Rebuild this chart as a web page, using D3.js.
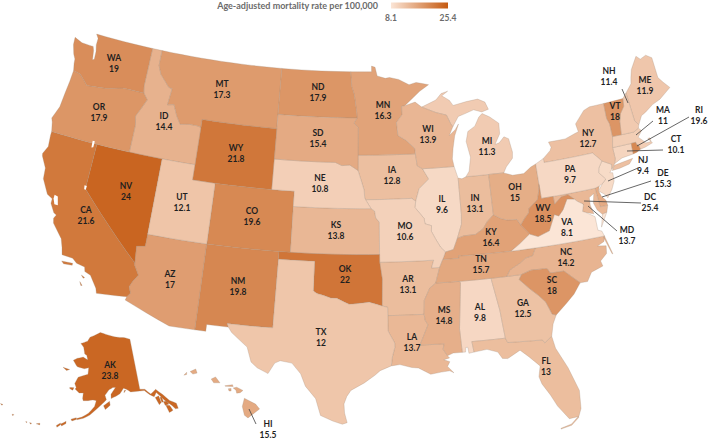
<!DOCTYPE html>
<html>
<head>
<meta charset="utf-8">
<script src="https://cdn.jsdelivr.net/npm/d3@7"></script>
<style>
body { margin:0; background:#fff; }
text { font-family:Lato,"Open Sans",sans-serif; font-weight:700; }
</style>
</head>
<body>
<svg width="709" height="445"></svg>
<script>
// values
var stateCodes = ["AK","AL","AR","AZ","CA","CO","CT","DC","DE","FL","GA","HI","IA","ID","IL","IN","KS","KY","LA","MA","MD","ME","MI","MN","MO","MS","MT","NC","ND","NE","NH","NJ","NM","NV","NY","OH","OK","OR","PA","RI","SC","SD","TN","TX","UT","VA","VT","WA","WI","WV","WY"]
var stateRates = [23.8,9.8,13.1,17,21.6,19.6,10.1,25.4,15.3,13,12.5,15.5,12.8,14.4,9.6,13.1,13.8,16.4,13.7,11,13.7,11.9,11.3,16.3,10.6,14.8,17.3,14.2,17.9,10.8,11.4,9.4,19.8,24,12.7,15,22,17.9,9.7,19.6,18,15.4,15.7,12,12.1,8.1,18,19,13.9,18.5,21.8]
var legendTicks = [8.1,25.4]
var legendTitle = "Age-adjusted mortality rate per 100,000"

// state outlines, lon,lat
var outlines = {
WA:["-124.7,48.38 -123.9,48.17 -123.1,48.15 -122.75,48.15 -122.6,47.9 -122.5,47.5 -122.45,47.28 -122.3,47.35 -122.35,47.9 -122.5,48.3 -122.5,48.75 -122.76,49 -117.03,49 -117.04,46.42 -116.92,46 -118.98,46 -119.3,45.93 -120.5,45.7 -121.2,45.65 -122.3,45.55 -122.8,45.9 -123.2,46.15 -123.9,46.25 -124.05,46.7 -124.1,47 -124.35,47.3 -124.65,47.9"],
OR:["-123.9,46.25 -123.2,46.15 -122.8,45.9 -122.3,45.55 -121.2,45.65 -120.5,45.7 -119.3,45.93 -118.98,46 -116.92,46 -116.46,45.6 -116.85,44.95 -117.2,44.4 -117.03,43.85 -117.03,42 -120,42 -124.2,42 -124.4,42.6 -124.55,42.85 -124.15,43.7 -124.05,44.7 -123.95,45.5"],
CA:["-124.2,42 -120,42 -120,39 -114.63,35 -114.6,34.85 -114.15,34.25 -114.5,33.8 -114.7,33.4 -114.5,33 -114.72,32.72 -117.12,32.53 -117.25,32.85 -117.9,33.6 -118.4,33.75 -118.5,34.03 -119.2,34.15 -119.6,34.4 -120.5,34.45 -120.65,34.9 -120.9,35.45 -121.85,36.3 -121.95,36.6 -121.8,36.85 -122.05,36.95 -122.5,37.5 -122.5,37.8 -123,38 -123.7,38.9 -123.8,39.6 -124.35,40.3 -124.4,40.45 -124.1,41 -124.2,41.75",
    "-120.4,34.05 -119.5,34.08 -119.5,33.95 -120.2,33.9","-118.6,33.47 -118.3,33.36 -118.4,33.3","-118.6,33.03 -118.35,32.82 -118.45,32.8"],
NV:["-120,42 -117.03,42 -114.04,42 -114.04,37 -114.05,36.2 -114.75,36.1 -114.63,35 -120,39"],
ID:["-117.03,49 -116.05,49 -116.05,48 -115.7,47.45 -114.7,46.7 -114.35,46.65 -114.5,45.55 -113.9,45.65 -113.45,44.95 -113,44.45 -112.3,44.55 -111.5,44.55 -111.05,44.48 -111.05,42 -114.04,42 -117.03,42 -117.03,43.85 -117.2,44.4 -116.85,44.95 -116.46,45.6 -116.92,46 -117.04,46.42"],
MT:["-116.05,49 -104.05,49 -104.05,45.94 -104.05,45 -111.05,45 -111.05,44.48 -111.5,44.55 -112.3,44.55 -113,44.45 -113.45,44.95 -113.9,45.65 -114.5,45.55 -114.35,46.65 -114.7,46.7 -115.7,47.45 -116.05,48"],
WY:["-111.05,45 -104.05,45 -104.05,43 -104.05,41 -109.05,41 -111.05,41 -111.05,42 -111.05,44.48"],
UT:["-114.04,42 -111.05,42 -111.05,41 -109.05,41 -109.05,37 -114.04,37"],
CO:["-109.05,41 -104.05,41 -102.05,41 -102.05,40 -102.05,37 -103,37 -109.05,37"],
AZ:["-114.04,37 -109.05,37 -109.05,31.33 -111.07,31.33 -114.8,32.5 -114.72,32.72 -114.5,33 -114.7,33.4 -114.5,33.8 -114.15,34.25 -114.6,34.85 -114.63,35 -114.75,36.1 -114.05,36.2"],
NM:["-109.05,37 -103,37 -103,36.5 -103.05,32 -106.62,32 -106.5,31.78 -108.2,31.78 -108.2,31.33 -109.05,31.33"],
TX:["-103,36.5 -100,36.5 -100,34.56 -99.7,34.4 -99.2,34.3 -98.6,34.15 -98.1,34.13 -97.5,33.9 -97.1,33.75 -96.5,33.8 -95.5,33.9 -94.48,33.64 -94.04,33.55 -94.04,33 -94.04,31.99 -93.55,31.2 -93.55,30.9 -93.75,30.3 -93.85,29.7 -94.7,29.4 -95.1,29.1 -95.9,28.6 -96.9,28.1 -97.2,27.7 -97.4,27.2 -97.35,26.6 -97.15,25.96 -97.5,25.85 -98.2,26.05 -99.1,26.4 -99.5,27.5 -100.3,28.3 -100.7,29.1 -101.4,29.77 -102.3,29.88 -102.7,29.7 -103.15,28.98 -104,29.3 -104.5,29.65 -104.9,30.6 -106.2,31.45 -106.5,31.78 -106.62,32 -103.05,32"],
OK:["-103,37 -102.05,37 -94.62,37 -94.62,36.5 -94.43,35.4 -94.48,33.64 -95.5,33.9 -96.5,33.8 -97.1,33.75 -97.5,33.9 -98.1,34.13 -98.6,34.15 -99.2,34.3 -99.7,34.4 -100,34.56 -100,36.5 -103,36.5"],
KS:["-102.05,40 -95.3,40 -95,39.85 -94.9,39.4 -94.6,39.1 -94.62,37 -102.05,37"],
NE:["-104.05,43 -98.5,43 -97.9,42.8 -97.2,42.85 -96.45,42.5 -96.1,41.7 -95.9,41.2 -95.85,40.7 -95.77,40.58 -95.3,40 -102.05,40 -102.05,41 -104.05,41"],
SD:["-104.05,45.94 -96.56,45.94 -96.85,45.6 -96.45,45.3 -96.45,43.5 -96.45,42.5 -97.2,42.85 -97.9,42.8 -98.5,43 -104.05,43 -104.05,45"],
ND:["-104.05,49 -97.23,49 -97.1,48 -96.85,47.5 -96.6,46.3 -96.56,45.94 -104.05,45.94"],
MN:["-97.23,49 -95.15,49 -95.15,49.38 -94.8,49.3 -94.6,48.72 -93.8,48.55 -93.4,48.6 -92.5,48.45 -91.5,48.07 -90.8,48.2 -89.6,48 -90.5,47.6 -92,46.7 -92.3,46.66 -92.3,46.1 -92.85,45.6 -92.75,44.75 -92,44.4 -91.25,43.85 -91.22,43.5 -96.45,43.5 -96.45,45.3 -96.85,45.6 -96.56,45.94 -96.6,46.3 -96.85,47.5 -97.1,48"],
IA:["-96.45,43.5 -91.22,43.5 -91.1,42.7 -90.65,42.5 -90.15,41.8 -91.05,41.2 -91.4,40.4 -91.73,40.6 -95.77,40.58 -95.85,40.7 -95.9,41.2 -96.1,41.7 -96.45,42.5"],
MO:["-95.77,40.58 -91.73,40.6 -91.4,40.4 -91.5,40 -90.75,39.25 -90.7,38.9 -90.15,38.75 -90.2,38.4 -89.9,37.9 -89.5,37.3 -89.13,36.98 -89.4,36.5 -89.7,36 -90.37,36 -90.15,36.5 -94.62,36.5 -94.62,37 -94.6,39.1 -94.9,39.4 -95,39.85 -95.3,40"],
AR:["-94.62,36.5 -90.15,36.5 -90.37,36 -89.7,36 -89.9,35.5 -90.1,35 -90.6,34.7 -91.1,33.9 -91.17,33 -94.04,33 -94.04,33.55 -94.48,33.64 -94.43,35.4"],
LA:["-94.04,33 -91.17,33 -91.1,32.6 -90.9,32.3 -91.6,31 -89.73,31 -89.85,30.65 -89.55,30.2 -89.4,30.05 -89.85,29.95 -89.4,29.8 -89.6,29.5 -89.15,29.05 -89.45,29.2 -90.1,29.15 -90.9,29.05 -91.8,29.5 -92.3,29.55 -93.2,29.77 -93.85,29.7 -93.75,30.3 -93.55,30.9 -93.55,31.2 -94.04,31.99"],
MS:["-91.17,33 -91.1,33.9 -90.6,34.7 -90.1,35 -88.2,35 -88.1,34.9 -88.47,31.9 -88.4,30.35 -89.1,30.35 -89.55,30.2 -89.85,30.65 -89.73,31 -91.6,31 -90.9,32.3 -91.1,32.6"],
TN:["-90.1,35 -89.9,35.5 -89.7,36 -89.4,36.5 -88.05,36.5 -88.05,36.68 -87.85,36.64 -83.7,36.6 -81.68,36.59 -82,36.12 -82.6,36.03 -83.1,35.75 -84,35.4 -84.32,35 -85.6,35 -88.2,35"],
KY:["-89.4,36.5 -88.05,36.5 -88.05,36.68 -87.85,36.64 -83.7,36.6 -82.9,37 -81.97,37.54 -82.6,38.2 -82.85,38.6 -83.7,38.65 -84.2,38.8 -84.8,39.1 -85.4,38.7 -85.8,38.27 -86.5,37.95 -87.5,37.93 -88.05,37.8 -88.45,37.1 -89.13,36.98"],
IL:["-90.65,42.5 -87.8,42.5 -87.55,41.75 -87.53,41.72 -87.53,39.35 -87.6,38.7 -87.95,38 -88.05,37.8 -88.45,37.1 -89.13,36.98 -89.5,37.3 -89.9,37.9 -90.2,38.4 -90.15,38.75 -90.7,38.9 -90.75,39.25 -91.5,40 -91.4,40.4 -91.05,41.2 -90.15,41.8"],
WI:["-92.3,46.66 -92,46.7 -91,46.9 -90.4,46.55 -89.1,46.13 -88.1,45.9 -87.8,45.35 -87.6,45.1 -88,44.55 -87.4,44.9 -87.05,45.25 -87.5,44.5 -87.75,43.7 -87.9,43 -87.8,42.5 -90.65,42.5 -91.1,42.7 -91.22,43.5 -91.25,43.85 -92,44.4 -92.75,44.75 -92.85,45.6 -92.3,46.1"],
MI:["-86.83,41.76 -84.8,41.75 -83.45,41.73 -83.15,42.1 -82.5,42.6 -82.42,43 -82.6,43.9 -83,44.07 -83.5,43.72 -83.9,43.65 -83.35,44.3 -83.3,45 -84.1,45.5 -84.75,45.77 -85.1,45.55 -85.55,45 -86.25,44.7 -86.5,44.05 -86.25,43 -86.5,42.1",
    "-90.4,46.55 -89.1,46.13 -88.1,45.9 -87.8,45.35 -87.6,45.1 -87,45.75 -86.5,45.85 -85.5,46.08 -84.75,45.88 -84.1,46 -84.35,46.5 -85,46.75 -86.1,46.67 -87.4,46.5 -87.7,46.85 -88.4,47.2 -87.8,47.47 -88.45,47.35 -89,46.95"],
IN:["-87.53,41.72 -87.2,41.65 -86.83,41.76 -84.8,41.75 -84.8,39.1 -85.4,38.7 -85.8,38.27 -86.5,37.95 -87.5,37.93 -88.05,37.8 -87.95,38 -87.6,38.7 -87.53,39.35"],
OH:["-84.8,41.75 -83.45,41.73 -82.7,41.5 -81.7,41.5 -81,41.85 -80.52,42 -80.52,40.64 -80.65,40.2 -80.85,39.7 -81.7,39.2 -81.75,38.95 -82.2,38.6 -82.6,38.2 -82.85,38.6 -83.7,38.65 -84.2,38.8 -84.8,39.1"],
PA:["-80.52,42 -79.76,42.27 -79.76,42 -75.35,42 -74.7,41.36 -75.1,40.95 -75.2,40.65 -74.72,40.15 -75.1,39.9 -75.4,39.8 -75.8,39.72 -79.48,39.72 -80.52,39.72 -80.52,40.64"],
NY:["-79.76,42.27 -79.05,42.7 -78.9,42.9 -79.05,43.27 -77.5,43.27 -76.5,43.5 -76.2,43.55 -76.3,44.1 -75.3,44.85 -74.7,45 -73.35,45 -73.4,44 -73.25,43.6 -73.27,42.75 -73.5,42.05 -73.5,41.3 -73.66,41 -73.85,40.8 -74,40.7 -73.92,41 -74.7,41.36 -75.35,42 -79.76,42",
    "-74,40.6 -73.7,40.9 -72.6,41 -72,41.05 -72.4,40.75 -73.3,40.63"],
NJ:["-73.92,41 -74.7,41.36 -75.1,40.95 -75.2,40.65 -74.72,40.15 -75.1,39.9 -75.55,39.5 -75.1,39.2 -74.9,38.93 -74.4,39.4 -74.05,39.9 -74,40.45 -74.25,40.5 -74,40.7"],
DE:["-75.8,39.72 -75.4,39.8 -75.55,39.5 -75.4,39.1 -75.1,38.8 -75.05,38.45 -75.7,38.46"],
MD:["-79.48,39.72 -75.8,39.72 -75.7,38.46 -75.05,38.45 -75.25,38.03 -75.65,37.95 -76,38.3 -76.2,38.8 -76,39.4 -76.45,39.2 -76.5,38.7 -76.35,38.1 -77,38.3 -77.25,38.4 -77.05,38.85 -77.5,39.1 -77.75,39.3 -78.2,39.65 -78.8,39.6 -79.48,39.2"],
DC:["-77.12,38.93 -77.04,39 -76.91,38.89 -77.04,38.79"],
VA:["-83.7,36.6 -81.68,36.59 -75.87,36.55 -76,36.9 -76.3,37 -76.3,37.9 -77,38.3 -77.25,38.4 -77.05,38.85 -77.5,39.1 -77.75,39.3 -78.35,39.4 -78.85,38.75 -79.3,38.4 -79.65,38.55 -80.3,37.55 -81.3,37.3 -81.97,37.54 -82.9,37",
    "-75.25,38.03 -75.65,37.95 -75.95,37.15 -75.6,37.6"],
WV:["-80.52,40.64 -80.52,39.72 -79.48,39.72 -79.48,39.2 -78.8,39.6 -78.2,39.65 -77.75,39.3 -78.35,39.4 -78.85,38.75 -79.3,38.4 -79.65,38.55 -80.3,37.55 -81.3,37.3 -81.97,37.54 -82.6,38.2 -82.2,38.6 -81.75,38.95 -81.7,39.2 -80.85,39.7 -80.65,40.2"],
NC:["-81.68,36.59 -75.87,36.55 -76,36.2 -76.6,36 -75.9,35.9 -76,35.4 -76.6,35 -76.5,34.65 -77.5,34.4 -77.95,33.85 -78.55,33.86 -79.67,34.8 -80.8,34.82 -80.95,35.1 -81.05,35.15 -82.3,35.2 -83.1,35 -84.32,35 -84,35.4 -83.1,35.75 -82.6,36.03 -82,36.12",
    "-75.87,36.55 -75.5,35.3 -75.56,35.3 -75.97,36.5"],
SC:["-83.1,35 -82.3,35.2 -81.05,35.15 -80.95,35.1 -80.8,34.82 -79.67,34.8 -78.55,33.86 -79.2,33.2 -79.9,32.7 -80.85,32.05 -81.15,32.15 -81.5,33 -82,33.5 -82.6,34 -83.35,34.7"],
GA:["-85.6,35 -84.32,35 -83.1,35 -83.35,34.7 -82.6,34 -82,33.5 -81.5,33 -81.15,32.15 -80.85,32.05 -81.2,31.5 -81.45,30.72 -82.05,30.36 -82.2,30.57 -84.86,30.7 -85,31 -85.1,32 -85.18,32.87"],
AL:["-88.2,35 -85.6,35 -85.18,32.87 -85.1,32 -85,31 -87.6,31 -87.5,30.3 -87.9,30.25 -87.95,30.65 -88.1,30.65 -88.15,30.35 -88.4,30.35 -88.47,31.9 -88.1,34.9"],
FL:["-87.6,31 -85,31 -84.86,30.7 -82.2,30.57 -82.05,30.36 -81.45,30.72 -81.3,29.9 -80.6,28.5 -80.05,26.9 -80.15,25.7 -80.4,25.2 -81.1,25.15 -81.8,26.1 -82.2,26.9 -82.7,27.7 -82.85,28.2 -82.65,28.9 -83.4,29.6 -84,30.1 -85,29.65 -85.4,29.7 -85.7,30.15 -86.5,30.4 -87.5,30.3",
    "-81.8,24.55 -81,24.7 -80.4,25.15 -80.45,25.2 -81,24.78 -81.8,24.6"],
VT:["-73.35,45 -71.5,45 -71.6,44.5 -72.05,44.1 -72.3,43.6 -72.46,42.73 -73.27,42.75 -73.25,43.6 -73.4,44"],
NH:["-71.5,45 -71.08,45.3 -70.98,43.4 -70.7,43.07 -70.82,42.87 -71.3,42.7 -72.46,42.73 -72.3,43.6 -72.05,44.1 -71.6,44.5"],
ME:["-71.08,45.3 -70.4,45.8 -70.25,46.2 -70,46.7 -69.23,47.46 -68.9,47.2 -68.3,47.35 -67.8,47.07 -67.8,45.7 -67.45,45.3 -67,44.85 -68.2,44.3 -69,44.1 -69.8,43.75 -70.25,43.6 -70.7,43.07 -70.98,43.4"],
MA:["-73.5,42.05 -73.27,42.75 -72.46,42.73 -71.3,42.7 -70.82,42.87 -70.6,42.65 -71.05,42.3 -70.65,41.95 -70.55,41.8 -70.05,41.8 -70.05,42.05 -70.25,42.05 -69.95,41.7 -70.65,41.55 -71.13,41.5 -71.2,41.75 -71.38,41.9 -71.38,42.02 -71.8,42.02"],
RI:["-71.8,42.02 -71.38,42.02 -71.38,41.9 -71.2,41.75 -71.13,41.5 -71.5,41.37 -71.85,41.32"],
CT:["-73.5,42.05 -71.8,42.02 -71.85,41.32 -72.9,41.25 -73.66,41 -73.5,41.3"],
AK:["-141,69.65 -143.5,70.1 -148,70.4 -152,70.85 -156.6,71.35 -159,70.85 -162,70.3 -163,69.5 -166.2,68.9 -164.5,68.3 -163.5,67.1 -162.5,66.9 -161.8,66.1 -164,66.5 -166.5,66.1 -168.1,65.6 -166,64.6 -162.8,64.4 -161,64.7 -161,63.5 -163,63.1 -164.8,62.7 -165.7,61.5 -164.9,60.8 -165.2,60.5 -163.5,59.9 -162,60 -162,59 -161.7,58.6 -160,58.7 -158.3,58.9 -157.1,58.8 -157.6,57.7 -159.5,56.4 -161.5,55.6 -163.2,55.2 -163,55 -161,55.4 -159,56.1 -157,57.2 -155,58.2 -153.5,59 -154,59.8 -152.5,60.8 -151,61.2 -150,61.2 -151.8,60 -151.8,59.2 -150,59.6 -148.5,60 -147,60.9 -146,60.7 -144.5,60.1 -142,60 -139.5,59.9 -138,59 -136.6,58.35 -135.5,59 -134.5,58.2 -133.5,57.2 -132.6,56.6 -131.7,55.9 -131,55.1 -130.1,55 -130.1,56 -131.9,56.9 -133.5,58.3 -135.4,59.6 -137.5,59 -139.2,60.1 -141,60.3",
    "-136.3,58.2 -135,58.3 -134.8,57 -135.6,56.7","-134.7,58 -134.1,57.9 -134,57 -134.6,57","-133.6,56.3 -132.4,56 -131.9,55 -133.2,54.8","-134,57 -133,57 -132.5,56.3 -133.8,56.3",
    "-154.5,57.9 -152.4,58.7 -152.2,58 -153.9,57.2","-167.3,60.6 -165.7,60.7 -166,60.2 -167.2,60.4","-171.7,63.9 -168.8,63.8 -170,63.5",
    "-164.9,54.95 -163.3,55.35 -163.2,55.05 -164.5,54.65","-167.8,53.7 -166.3,54.4 -166.2,54 -167.4,53.4","-169,53.3 -167.9,53.9 -167.8,53.6 -168.7,53",
    "-175,52.6 -174,52.9 -173.9,52.6","-177,52.4 -176.4,52.45 -176.5,52.2","-178.2,52.3 -177.8,52.4 -177.8,52.2","177.2,52.6 177.7,52.7 177.6,52.4","172.6,53.4 173.4,53.45 173.2,53.25","-146.8,60.5 -146.2,60.5 -147,60.1"],
HI:["-155.9,20.25 -155.7,20.15 -155.1,19.85 -154.82,19.52 -155.65,18.92 -155.9,19.1 -156.05,19.7","-156.7,20.95 -156.45,21 -156,20.78 -156.2,20.63 -156.45,20.6 -156.5,20.8",
    "-157.05,20.9 -156.85,20.92 -156.85,20.74 -157,20.75","-157.3,21.1 -156.75,21.17 -156.7,21.05 -157.25,21.06","-158.28,21.55 -157.97,21.7 -157.65,21.3 -158.1,21.3","-159.8,22.05 -159.4,22.23 -159.3,21.95 -159.6,21.88","-160.25,21.8 -160.05,22 -160.05,21.85"]
}

// water that shows as white holes: Tahoe, Goose Lake, San Francisco Bay
var lakes = ["-120.15,39.2 -119.95,39.2 -119.95,38.95 -120.1,38.95","-120.45,42.15 -120.25,42.15 -120.25,41.75 -120.4,41.7","-122.4,38.1 -122.1,38.05 -121.9,37.5 -122.2,37.5 -122.4,37.85"]

// where the labels sit on the page
var labelSpots = {AK:[110,365],AL:[480,307],AR:[408,279],AZ:[170,274],CA:[86,210],CO:[252,211],CT:[676,139],DC:[650,197],DE:[663,173],FL:[546,361],GA:[523,303],HI:[268,424],IA:[392,170],ID:[164,116],IL:[442,199],IN:[475,198],KS:[336,225],KY:[491,232],LA:[412,337],MA:[663,110],MD:[627,230],ME:[645,80],MI:[487,141],MN:[383,105],MO:[405,226],MS:[444,310],MT:[222,84],NC:[566,252],ND:[318,87],NE:[320,178],NH:[609,71],NJ:[643,160],NM:[238,281],NV:[126,186],NY:[588,133],OH:[515,187],OK:[345,269],OR:[99,107],PA:[570,169],RI:[699,110],SC:[552,280],SD:[318,133],TN:[481,259],TX:[321,332],UT:[182,197],VA:[567,222],VT:[615,106],WA:[114,58],WI:[428,129],WV:[543,208],WY:[236,148]}
var leaders = [[622,89,628,103],[653,121,636,135],[689,117,637,146],[663,150,627,151],[638,168,608,181],[651,181,602,197],[641,203,584,201],[617,231,588,206],[256,424,249,409]]

var svg = d3.select("svg")

var color = d3.scaleLinear().domain(d3.extent(stateRates)).range(["#fbe5d6","#c55a11"])

var lower48 = d3.geoConicEqualArea().parallels([29.5,45.5]).rotate([96,0]).center([0,37.5]).scale(870).translate([363,247])
var alaska = d3.geoConicEqualArea().parallels([55,65]).rotate([154,0]).center([0,58.5]).scale(313).translate([105,402.5])
var hawaii = d3.geoConicEqualArea().parallels([8,18]).rotate([157,0]).center([0,20]).scale(850).translate([229,402])

var pathFor = function(code)
{
    if (code == "AK") { return d3.geoPath(alaska) }
    if (code == "HI") { return d3.geoPath(hawaii) }
    return d3.geoPath(lower48)
}

// follow the parallels: break long edges so they are not drawn as great arcs
var parseRing = function(text)
{
    var pts = text.trim().split(/\s+/).map(function(p){ return p.split(",").map(Number) })
    pts.push(pts[0])
    var out = []
    for (var i = 0; i < pts.length - 1; i++)
    {
        var a = pts[i], b = pts[i+1]
        var n = Math.max(1, Math.ceil(Math.abs(a[0]-b[0])))
        if (Math.abs(a[0]-b[0]) > 180) { n = 1 }
        for (var k = 0; k < n; k++)
        {
            out.push([a[0]+(b[0]-a[0])*k/n, a[1]+(b[1]-a[1])*k/n])
        }
    }
    out.push(pts[0])
    if (d3.geoArea({type:"Polygon",coordinates:[out]}) > 2*Math.PI) { out.reverse() }
    return out
}

var features = stateCodes.map(function(code, i)
{
    return {
        type:"Feature",
        id:code,
        rate:stateRates[i],
        geometry:{type:"MultiPolygon",coordinates:outlines[code].map(function(t){ return [parseRing(t)] })}
    }
})

svg.append("g")
    .selectAll("path")
    .data(features)
    .enter()
    .append("path")
    .attr("d", function(d){ return pathFor(d.id)(d) })
    .attr("fill", function(d){ return color(d.rate) })
    .attr("stroke", "#a08a7a")
    .attr("stroke-opacity", 0.55)
    .attr("stroke-width", 0.5)
    .attr("stroke-linejoin", "round")

svg.append("g")
    .selectAll("path")
    .data(lakes)
    .enter()
    .append("path")
    .attr("d", function(t){ return d3.geoPath(lower48)({type:"Polygon",coordinates:[parseRing(t)]}) })
    .attr("fill", "#fff")

svg.append("g")
    .selectAll("line")
    .data(leaders)
    .enter()
    .append("line")
    .attr("x1", function(d){ return d[0] })
    .attr("y1", function(d){ return d[1] })
    .attr("x2", function(d){ return d[2] })
    .attr("y2", function(d){ return d[3] })
    .attr("stroke", "#404040")
    .attr("stroke-width", 0.8)

var labels = svg.append("g")
    .selectAll("g")
    .data(features)
    .enter()
    .append("g")
    .attr("transform", function(d){ return "translate("+labelSpots[d.id][0]+","+labelSpots[d.id][1]+")" })
    .attr("text-anchor", "middle")
    .attr("font-size", 8.5)
    .attr("fill", "#1f1f1f")

labels.append("text")
    .attr("dy", "0.35em")
    .text(function(d){ return d.id })

labels.append("text")
    .attr("y", 11)
    .attr("dy", "0.35em")
    .text(function(d){ return d.rate })

// legend
var legendX = d3.scaleLinear().domain(legendTicks).range([391,448])

var grad = svg.append("defs").append("linearGradient").attr("id","legendGrad")
grad.selectAll("stop")
    .data(legendTicks)
    .enter()
    .append("stop")
    .attr("offset", function(d,i){ return i*100+"%" })
    .attr("stop-color", function(d){ return color(d) })

svg.append("rect")
    .attr("x", legendX(legendTicks[0]))
    .attr("y", 2.5)
    .attr("width", legendX(legendTicks[1])-legendX(legendTicks[0]))
    .attr("height", 6)
    .attr("fill", "url(#legendGrad)")

svg.append("text")
    .attr("x", 378)
    .attr("y", 6)
    .attr("dy", "0.35em")
    .attr("text-anchor", "end")
    .attr("font-size", 9)
    .attr("fill", "#6b6b6b")
    .text(legendTitle)

svg.append("g")
    .selectAll("text")
    .data(legendTicks)
    .enter()
    .append("text")
    .attr("x", function(d){ return legendX(d) })
    .attr("y", 18)
    .attr("dy", "0.35em")
    .attr("text-anchor", "middle")
    .attr("font-size", 8.5)
    .attr("fill", "#6b6b6b")
    .text(function(d){ return d })
</script>
</body>
</html>
